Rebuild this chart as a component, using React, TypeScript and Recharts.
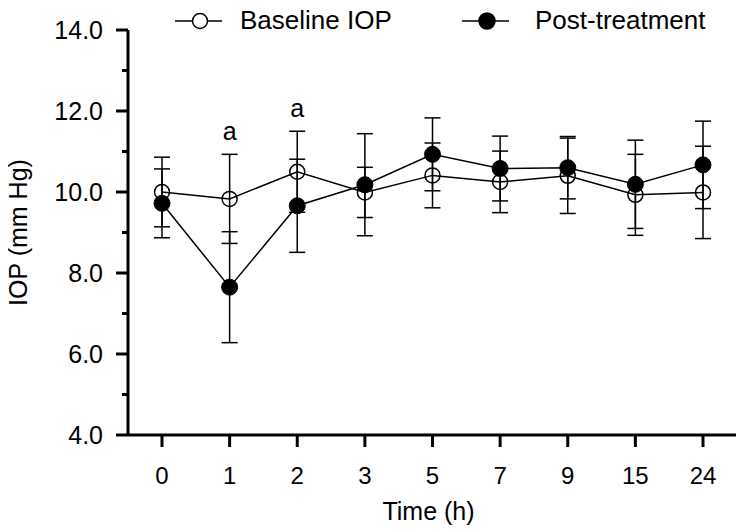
import React from 'react';
import { LineChart, Line, XAxis, YAxis, ErrorBar, Legend, LabelList } from 'recharts';

const times = ['0', '1', '2', '3', '5', '7', '9', '15', '24'];
const baselineMean = [10.0, 9.83, 10.5, 9.99, 10.41, 10.25, 10.4, 9.93, 9.99];
const baselineErr = [0.86, 1.1, 1.0, 0.62, 0.8, 0.76, 0.93, 1.0, 1.14];
const postMean = [9.72, 7.65, 9.66, 10.18, 10.93, 10.58, 10.6, 10.19, 10.67];
const postErr = [0.85, 1.37, 1.15, 1.26, 0.9, 0.8, 0.77, 1.09, 1.08];
const sigMarks = ['', 'a', 'a', '', '', '', '', '', ''];
const yTicks = [4, 5, 6, 7, 8, 9, 10, 11, 12, 13, 14];

const data = times.map((t, i) => ({
  time: t,
  baseline: baselineMean[i],
  baseErr: baselineErr[i],
  post: postMean[i],
  postErr: postErr[i],
  sig: sigMarks[i] || null,
  sigY: sigMarks[i] ? baselineMean[i] + baselineErr[i] : null,
}));

const FONT = '"Liberation Sans", Arial, sans-serif';

// y ticks: long ticks with labels on even values, short ones in between
const YTick = (props: any) => {
  const { x, y, payload } = props;
  const v = payload.value as number;
  const major = v % 2 === 0;
  const ax = x + 25;
  return (
    <g>
      <line x1={ax} x2={ax - (major ? 12 : 6)} y1={y} y2={y} stroke="#000" strokeWidth={3} />
      {major && (
        <text x={x} y={y} dy="0.36em" textAnchor="end" fontSize={25} fill="#000" fontFamily={FONT}>
          {v.toFixed(1)}
        </text>
      )}
    </g>
  );
};

const legendSpots = [
  { icon: 167, text: 232 },
  { icon: 454, text: 527 },
];

const LegendContent = (props: any) => {
  const items = (props.payload || []).filter((p: any) => p.type !== 'none');
  return (
    <div style={{ position: 'relative', width: 736, height: 30, fontFamily: FONT }}>
      {items.map((it: any, i: number) => (
        <React.Fragment key={it.value}>
          <svg
            width={48}
            height={24}
            style={{ position: 'absolute', left: legendSpots[i].icon, top: 1 }}
          >
            <line x1={0} x2={47} y1={12} y2={12} stroke="#000" strokeWidth={1.5} />
            <circle
              cx={25}
              cy={12}
              r={i === 0 ? 7.5 : 8}
              fill={i === 0 ? '#fff' : '#000'}
              stroke="#000"
              strokeWidth={1.5}
            />
          </svg>
          <span
            style={{
              position: 'absolute',
              left: legendSpots[i].text,
              top: -3,
              fontSize: 26,
              color: '#000',
              whiteSpace: 'nowrap',
            }}
          >
            {it.value}
          </span>
        </React.Fragment>
      ))}
    </div>
  );
};

export default function App() {
  return (
    <div style={{ width: 736, height: 523, background: '#fff' }}>
      <LineChart width={736} height={523} data={data} margin={{ top: 22, right: 7, left: 0, bottom: 0 }}>
        <XAxis
          dataKey="time"
          height={96}
          padding={{ left: 34, right: 34 }}
          axisLine={{ stroke: '#000', strokeWidth: 3 }}
          tickLine={{ stroke: '#000', strokeWidth: 3 }}
          tickSize={12}
          tickMargin={20}
          tick={{ fontSize: 24, fill: '#000', fontFamily: FONT }}
          label={{
            value: 'Time (h)',
            position: 'insideBottom',
            offset: 11,
            fontSize: 25,
            fill: '#000',
            fontFamily: FONT,
            dx: -4,
          }}
        />
        <YAxis
          width={120}
          domain={[4, 14]}
          ticks={yTicks}
          interval={0}
          allowDataOverflow
          axisLine={{ stroke: '#000', strokeWidth: 3 }}
          tickLine={false}
          tickSize={12}
          tickMargin={13}
          tick={<YTick />}
          label={{
            value: 'IOP (mm Hg)',
            angle: -90,
            position: 'insideLeft',
            offset: 10,
            fontSize: 25,
            fill: '#000',
            fontFamily: FONT,
            style: { textAnchor: 'middle' },
          }}
        />
        <Legend
          verticalAlign="middle"
          align="center"
          layout="horizontal"
          wrapperStyle={{ top: 0, left: 0, width: 736, height: 30 }}
          content={<LegendContent />}
        />
        <Line
          name="Baseline IOP"
          dataKey="baseline"
          stroke="#000"
          strokeWidth={1.5}
          dot={{ r: 7.5, fill: 'none', stroke: '#000', strokeWidth: 1.5 }}
          activeDot={false}
          isAnimationActive={false}
        >
          <ErrorBar dataKey="baseErr" width={8} stroke="#000" strokeWidth={1.5} direction="y" />
        </Line>
        <Line
          name="Post-treatment"
          dataKey="post"
          stroke="#000"
          strokeWidth={1.5}
          dot={{ r: 8, fill: '#000', stroke: '#000', strokeWidth: 1 }}
          activeDot={false}
          isAnimationActive={false}
        >
          <ErrorBar dataKey="postErr" width={8} stroke="#000" strokeWidth={1.5} direction="y" />
        </Line>
        <Line
          dataKey="sigY"
          stroke="none"
          dot={false}
          activeDot={false}
          legendType="none"
          isAnimationActive={false}
        >
          <LabelList dataKey="sig" position="top" offset={14} fontSize={25} fill="#000" fontFamily={FONT} />
        </Line>
      </LineChart>
    </div>
  );
}
